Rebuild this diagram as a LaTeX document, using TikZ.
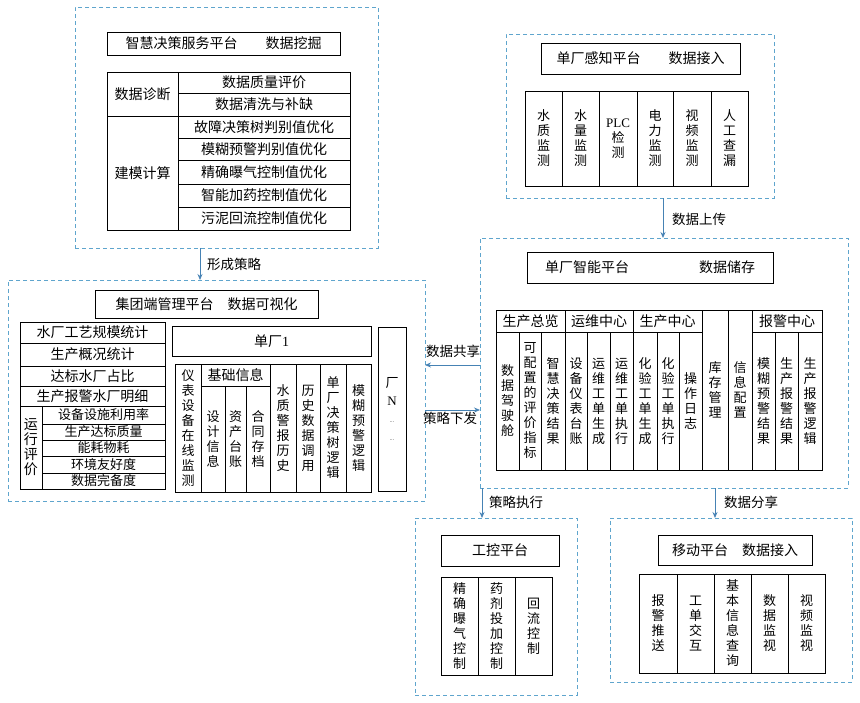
\documentclass[tikz,border=0pt]{standalone}
\usepackage{fontspec}
\setmainfont{Noto Sans CJK SC}
\newfontfamily\latinf{Liberation Serif}
\usetikzlibrary{arrows.meta,calc}
\definecolor{dashblue}{RGB}{95,165,205}
\definecolor{arrblue}{RGB}{70,130,180}
\newcommand\mycell[7][cellst]{%
  \pgfmathsetmacro\cw{#5-#3}\pgfmathsetmacro\ch{#6-#4}%
  \node[#1,minimum width=\cw pt,minimum height=\ch pt,anchor=north west] (#2) at (#3,#4) {#7};}
\def\vtA#1{\ifx\relax#1\else\hbox to 1.1em{\hss#1\hss}\expandafter\vtA\fi}
\newcommand\vt[1]{\vbox{\baselineskip=15pt\vtA#1\relax}}
\tikzset{
  cellst/.style={draw,line width=0.8pt,inner sep=0pt,outer sep=0pt,font=\fontsize{13}{15}\selectfont,align=center},
  dashst/.style={draw=dashblue,dashed,dash pattern=on 4pt off 3pt,line width=1pt,inner sep=0pt,outer sep=0pt},
  arr/.style={arrblue,line width=0.8pt,-{Stealth[length=6pt,width=5pt]}},
  lbl/.style={font=\fontsize{13.5}{15}\selectfont,inner sep=1pt},
  tt/.style={cellst,font=\fontsize{14}{16}\selectfont},
  hl/.style={cellst,font=\fontsize{14}{16}\selectfont},
  hs/.style={cellst,font=\fontsize{13}{15}\selectfont}
}
\begin{document}
\begin{tikzpicture}[x=1pt,y=-1pt]
\useasboundingbox (0,0) rectangle (860,702);
% ===== top-left
\mycell[dashst]{TL}{75}{7}{378}{248}{}
\mycell[tt]{TLt}{107}{32}{340}{55}{智慧决策服务平台\qquad 数据挖掘}
\mycell[hl]{zd}{107}{72}{178}{116}{数据诊断}
\mycell[hl]{jm}{107}{116}{178}{230}{建模计算}
\mycell[hl]{r1}{178}{72}{350}{93}{数据质量评价}
\mycell[hl]{r2}{178}{93}{350}{116}{数据清洗与补缺}
\mycell[hl]{r3}{178}{116}{350}{138}{故障决策树判别值优化}
\mycell[hl]{r4}{178}{138}{350}{160}{模糊预警判别值优化}
\mycell[hl]{r5}{178}{160}{350}{184}{精确曝气控制值优化}
\mycell[hl]{r6}{178}{184}{350}{207}{智能加药控制值优化}
\mycell[hl]{r7}{178}{207}{350}{230}{污泥回流控制值优化}
% ===== left group
\mycell[dashst]{G}{8}{280}{425}{501}{}
\mycell[tt]{Gt}{95}{290}{318}{318}{集团端管理平台\quad 数据可视化}
\mycell[hl]{g1}{20}{322}{165}{343}{水厂工艺规模统计}
\mycell[hl]{g2}{20}{343}{165}{366}{生产概况统计}
\mycell[hl]{g3}{20}{366}{165}{386}{达标水厂占比}
\mycell[hl]{g4}{20}{386}{165}{406}{生产报警水厂明细}
\mycell[hl]{yx}{20}{406}{42}{489}{\vt{运行评价}}
\mycell[hs]{e1}{42}{406}{165}{424}{设备设施利用率}
\mycell[hs]{e2}{42}{424}{165}{440}{生产达标质量}
\mycell[hs]{e3}{42}{440}{165}{456}{能耗物耗}
\mycell[hs]{e4}{42}{456}{165}{473}{环境友好度}
\mycell[hs]{e5}{42}{473}{165}{489}{数据完备度}
\mycell[hl]{dc1}{172}{326}{371}{356}{单厂\latinf 1}
\mycell{c1}{175}{364}{201}{492}{\vt{仪表设备在线监测}}
\mycell[hl]{jc}{201}{364}{270}{386}{基础信息}
\mycell{c2}{201}{386}{225}{492}{\vt{设计信息}}
\mycell{c3}{225}{386}{246}{492}{\vt{资产台账}}
\mycell{c4}{246}{386}{270}{492}{\vt{合同存档}}
\mycell{c5}{270}{364}{296}{492}{\vt{水质警报历史}}
\mycell{c6}{296}{364}{320}{492}{\vt{历史数据调用}}
\mycell{c7}{320}{364}{346}{492}{\vt{单厂决策树逻辑}}
\mycell{c8}{346}{364}{371}{492}{\vt{模糊预警逻辑}}
\mycell{cN}{378}{327}{406}{491}{\vbox{\baselineskip=18pt\hbox to 1.1em{\hss 厂\hss}\hbox to 1.1em{\hss\latinf N\hss}\hbox to 1.1em{\hss\latinf\tiny ···\hss}\hbox to 1.1em{\hss\latinf\tiny ···\hss}}}
% ===== top-right
\mycell[dashst]{TR}{506}{34}{774}{198}{}
\mycell[tt]{TRt}{541}{43}{740}{74}{单厂感知平台\qquad 数据接入}
\mycell{s1}{525}{91}{562}{186}{\vt{水质监测}}
\mycell{s2}{562}{91}{599}{186}{\vt{水量监测}}
\mycell{s3}{599}{91}{637}{186}{\vbox{\baselineskip=15pt\hbox to 2em{\hss\latinf PLC\hss}\hbox to 2em{\hss 检\hss}\hbox to 2em{\hss 测\hss}}}
\mycell{s4}{637}{91}{673}{186}{\vt{电力监测}}
\mycell{s5}{673}{91}{711}{186}{\vt{视频监测}}
\mycell{s6}{711}{91}{748}{186}{\vt{人工查漏}}
% ===== right middle
\mycell[dashst]{RM}{480}{238}{848}{488}{}
\mycell[tt]{RMt}{527}{252}{773}{283}{单厂智能平台\hspace{5em}数据储存}
\mycell[hl]{h1}{496}{310}{565}{332}{生产总览}
\mycell[hl]{h2}{565}{310}{633}{332}{运维中心}
\mycell[hl]{h3}{633}{310}{702}{332}{生产中心}
\mycell[hl]{h4}{752}{310}{822}{332}{报警中心}
\mycell{m1}{496}{332}{519}{470}{\vt{数据驾驶舱}}
\mycell{m2}{519}{332}{541}{470}{\vt{可配置的评价指标}}
\mycell{m3}{541}{332}{565}{470}{\vt{智慧决策结果}}
\mycell{m4}{565}{332}{587}{470}{\vt{设备仪表台账}}
\mycell{m5}{587}{332}{610}{470}{\vt{运维工单生成}}
\mycell{m6}{610}{332}{633}{470}{\vt{运维工单执行}}
\mycell{m7}{633}{332}{657}{470}{\vt{化验工单生成}}
\mycell{m8}{657}{332}{679}{470}{\vt{化验工单执行}}
\mycell{m9}{679}{332}{702}{470}{\vt{操作日志}}
\mycell{m10}{702}{310}{728}{470}{\vt{库存管理}}
\mycell{m11}{728}{310}{752}{470}{\vt{信息配置}}
\mycell{m12}{752}{332}{775}{470}{\vt{模糊预警结果}}
\mycell{m13}{775}{332}{798}{470}{\vt{生产报警结果}}
\mycell{m14}{798}{332}{822}{470}{\vt{生产报警逻辑}}
% ===== bottom
\mycell[dashst]{GK}{415}{518}{577}{695}{}
\mycell[tt]{GKt}{441}{535}{559}{566}{工控平台}
\mycell{k1}{441}{577}{478}{675}{\vt{精确曝气控制}}
\mycell{k2}{478}{577}{515}{675}{\vt{药剂投加控制}}
\mycell{k3}{515}{577}{552}{675}{\vt{回流控制}}
\mycell[dashst]{YD}{610}{518}{852}{682}{}
\mycell[tt]{YDt}{658}{535}{812}{565}{移动平台\quad 数据接入}
\mycell{y1}{639}{574}{677}{673}{\vt{报警推送}}
\mycell{y2}{677}{574}{714}{673}{\vt{工单交互}}
\mycell{y3}{714}{574}{751}{673}{\vt{基本信息查询}}
\mycell{y4}{751}{574}{788}{673}{\vt{数据监视}}
\mycell{y5}{788}{574}{825}{673}{\vt{视频监视}}
% ===== arrows
\draw[arr] (TL.south west) ++(125,0) coordinate (a1) -- (a1 |- G.north);
\node[lbl,anchor=west] (l1) at ($(a1)+(6,16)$) {形成策略};
\draw[arr] (TR.south west) ++(157,0) coordinate (a2) -- (a2 |- RM.north);
\node[lbl,anchor=west] (l2) at ($(a2)+(8,21)$) {数据上传};
\draw[arr] (RM.north west) ++(0,127) coordinate (a3) -- (a3 -| G.east);
\node[lbl] (l3) at ($(a3)+(-27,-14)$) {数据共享};
\draw[arr] (G.north east) ++(0,130) coordinate (a4) -- (a4 -| RM.west);
\node[lbl] (l4) at ($(a4)+(25,8)$) {策略下发};
\draw[arr] (RM.south west) ++(2,0) coordinate (a5) -- (a5 |- GK.north);
\node[lbl,anchor=west] (l5) at ($(a5)+(6,14)$) {策略执行};
\draw[arr] (RM.south west) ++(235,0) coordinate (a6) -- (a6 |- YD.north);
\node[lbl,anchor=west] (l6) at ($(a6)+(8,14)$) {数据分享};
\end{tikzpicture}
\end{document}
